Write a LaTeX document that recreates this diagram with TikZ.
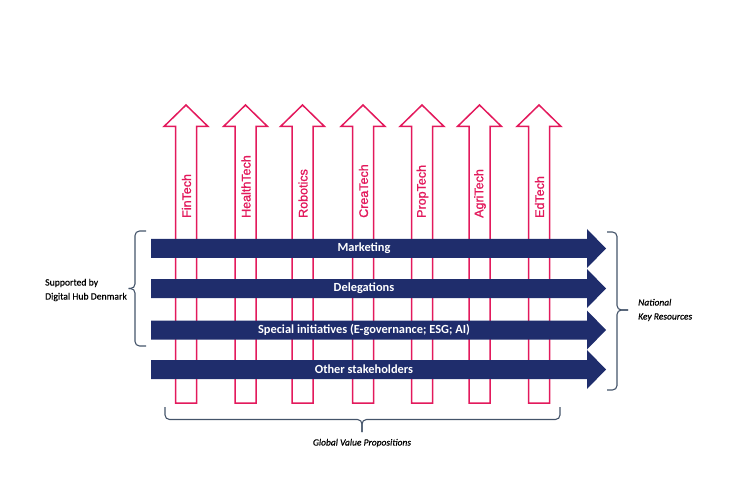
\documentclass[tikz,border=0pt]{standalone}
\usepackage{fontspec}
\setmainfont{Carlito}
\newfontfamily\arialf[FakeBold=1.2]{Liberation Sans}
\newfontfamily\lblf[FakeBold=0.4]{Carlito}
\definecolor{pinkc}{HTML}{E3195C}
\definecolor{navy}{HTML}{1F2D6C}
\definecolor{bracec}{HTML}{44546A}
\tikzset{
  pinkarrow/.style={draw=pinkc,line width=1.5pt,fill=white,line join=miter},
  pinklabel/.style={rotate=90,anchor=west,inner sep=0pt,text=pinkc,font=\arialf\fontsize{12.5}{14}\selectfont},
  bluearrow/.style={fill=navy,draw=none},
  bluelabel/.style={text=white,inner sep=0pt,font=\bfseries\fontsize{12.4}{14}\selectfont},
  bracestyle/.style={draw=bracec,line width=1.1pt,rounded corners=4.5pt},
  sidelabel/.style={inner sep=0pt,align=left,font=\lblf\fontsize{9.7}{14}\selectfont},
  itlabel/.style={inner sep=0pt,align=left,font=\lblf\itshape\fontsize{9.5}{14}\selectfont}
}
\begin{document}
\begin{tikzpicture}[x=1pt,y=-1pt]
\useasboundingbox (0,0) rectangle (741,486);
% pink upward arrows
\foreach \c/\t/\n in {186/FinTech/fin,245.5/HealthTech/health,302.5/Robotics/robo,363/CreaTech/crea,422/PropTech/prop,479.5/AgriTech/agri,539/EdTech/ed}{
  \draw[pinkarrow] ({\c-10.5},403) -- ({\c-10.5},126.5) -- ({\c-22},126.5) -- (\c,105)
     -- ({\c+22},126.5) -- ({\c+10.5},126.5) -- ({\c+10.5},403) -- cycle;
  \node[pinklabel] (\n) at ({\c+0.5},218) {\t};
}
% blue rightward arrows
\foreach \y in {248.5,288.5,330,369.5}{
  \fill[bluearrow] (151,{\y-9.5}) -- (587,{\y-9.5}) -- (587,{\y-19.5}) -- (606,\y)
     -- (587,{\y+19.5}) -- (587,{\y+9.5}) -- (151,{\y+9.5}) -- cycle;
}
\node[bluelabel] (mk) at (364,248.5) {Marketing};
\node[bluelabel] (dl) at (364,288.5) {Delegations};
\node[bluelabel] (si) at (364,330) {Special initiatives (E-governance; ESG; AI)};
\node[bluelabel] (os) at (364,369.5) {Other stakeholders};
% left brace
\coordinate (lbt) at (128.5,288.5);
\draw[bracestyle] (146,231) -- (135,231) -- (135,288.5) -- (lbt);
\draw[bracestyle] (lbt) -- (135,288.5) -- (135,346) -- (146,346);
% right brace
\coordinate (rbt) at (628,310);
\draw[bracestyle] (607,232) -- (617,232) -- (617,310) -- (rbt);
\draw[bracestyle] (rbt) -- (617,310) -- (617,390) -- (607,390);
% bottom brace
\coordinate (bbt) at (362,432);
\draw[bracestyle] (165,407) -- (165,419.5) -- (362,419.5) -- (bbt);
\draw[bracestyle] (bbt) -- (362,419.5) -- (560,419.5) -- (560,407);
% side labels
\node[sidelabel,anchor=west] (sup) at (45,290) {Supported by\\Digital Hub Denmark};
\node[itlabel,anchor=west] (nat) at (638,310) {National\\Key Resources};
\node[itlabel] (gvp) at (362,443) {Global Value Propositions};
\end{tikzpicture}
\end{document}
